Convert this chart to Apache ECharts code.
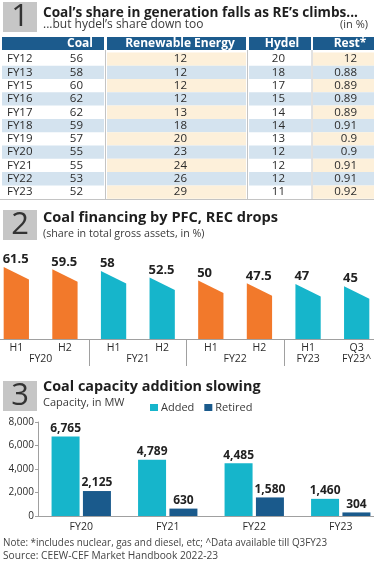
<!DOCTYPE html>
<html><head><meta charset="utf-8">
<script src="https://cdn.jsdelivr.net/npm/echarts@6/dist/echarts.min.js"></script>
<style>html,body{margin:0;padding:0;background:#fff}#c{width:374px;height:561px}</style>
</head><body><div id="c"></div>
<script>
// ---------- Panel 1: generation share table ----------
const genYears = ['FY12','FY13','FY15','FY16','FY17','FY18','FY19','FY20','FY21','FY22','FY23'];
const genCoal = [56,58,60,62,62,59,57,55,55,53,52];
const genRE = [12,12,12,12,13,18,20,23,24,26,29];
const genHydel = [20,18,17,15,14,14,13,12,12,12,11];
const genRest = [12,0.88,0.89,0.89,0.89,0.91,0.9,0.9,0.91,0.91,0.92];
const genHeaders = ['Coal','Renewable Energy','Hydel','Rest*'];

// ---------- Panel 2: coal financing share ----------
const finPeriods = ['H1','H2','H1','H2','H1','H2','H1','Q3'];
const finYears = ['FY20','FY20','FY21','FY21','FY22','FY22','FY23','FY23^'];
const finShare = [61.5,59.5,58,52.5,50,47.5,47,45];

// ---------- Panel 3: capacity ----------
const capYears = ['FY20','FY21','FY22','FY23'];
const capAdded = [6765,4789,4485,1460];
const capRetired = [2125,630,1580,304];
const capTicks = [0,2000,4000,6000,8000];

const FONT = '"Open Sans", sans-serif';
const C = {
  hdr:'#1c5b8d', blue:'#d4e3ef', cream:'#fdf0da', text:'#2b2b2b', box:'#c6c6c6',
  orange:'#f2792b', cyan:'#16b5cb', navy:'#1a5a8c', axis:'#a0a0a0', sep:'#c4c4c4'
};

const chart = echarts.init(document.getElementById('c'), null, {renderer:'canvas'});

// ----- table columns (layout/styles) -----
const tableRows = ['hdr'].concat(genYears);
const colCfg = [
  {left:2, width:102, cream:false, hdrAlign:'right', hdrX:91, valX:81, values:genCoal, showYear:true},
  {left:107, width:139, cream:true, hdrAlign:'center', hdrX:73, valX:80, values:genRE},
  {left:249, width:62, cream:false, hdrAlign:'center', hdrX:33, valX:36, values:genHydel},
  {left:313, width:61, cream:true, hdrAlign:'center', hdrX:37, valX:44, values:genRest}
];
const rowBand = 13.3;
const tableTop = 52.4 - rowBand;

const grids = [], xAxes = [], yAxes = [], series = [];

colCfg.forEach((cfg, ci) => {
  grids.push({left:cfg.left, width:cfg.width, top:tableTop, height:rowBand*tableRows.length, outerBoundsMode:'none'});
  xAxes.push({gridIndex:ci, type:'value', min:0, max:1, show:false});
  yAxes.push({gridIndex:ci, type:'category', data:tableRows, inverse:true, show:false});
  series.push({
    type:'custom', xAxisIndex:ci, yAxisIndex:ci, clip:false, silent:true,
    data: tableRows.map((r, i) => [0, i]),
    renderItem: (params, api) => {
      const i = params.dataIndex;
      const cs = params.coordSys;
      const ctr = api.coord([0, i]);
      const band = api.size([0, 1])[1];
      const children = [];
      if (i === 0) {
        children.push({type:'rect', shape:{x:cs.x, y:ctr[1]-band/2-2, width:cs.width, height:band-0.4}, style:{fill:C.hdr}});
        children.push({type:'text', x:cs.x+cfg.hdrX, y:ctr[1]-2.2, style:{text:genHeaders[ci], fill:'#fff', font:'bold 12px '+FONT, align:cfg.hdrAlign, verticalAlign:'middle'}});
      } else {
        const r = i - 1;
        let fill = null;
        if (r % 2 === 1) fill = C.blue; else if (cfg.cream) fill = C.cream;
        if (fill) children.push({type:'rect', shape:{x:cs.x, y:ctr[1]-band/2, width:cs.width, height:band}, style:{fill:fill}});
        if (cfg.showYear) children.push({type:'text', x:cs.x+5, y:ctr[1], style:{text:genYears[r], fill:C.text, font:'11.5px '+FONT, align:'left', verticalAlign:'middle'}});
        children.push({type:'text', x:cs.x+cfg.valX, y:ctr[1], style:{text:String(cfg.values[r]), fill:C.text, font:'11.5px '+FONT, align:'right', verticalAlign:'middle'}});
      }
      return {type:'group', children};
    }
  });
});

// ----- Panel 2 grid -----
const g2 = grids.length;
grids.push({left:-8, right:-7, top:257, height:82, outerBoundsMode:'none'});
const baseYear = s => s.replace('^','');
const yearOrder = [];
finYears.forEach(y => { const b = baseYear(y); if (yearOrder.indexOf(b) < 0) yearOrder.push(b); });
const grpLabelPos = [], grpLabelTxt = [];
for (let i = 0; i < finYears.length;) {
  let j = i; while (j + 1 < finYears.length && finYears[j+1] === finYears[i]) j++;
  grpLabelPos.push((i + j) / 2); grpLabelTxt.push(finYears[i]); i = j + 1;
}
const grpSeps = [];
for (let i = 1; i < finYears.length; i++) if (baseYear(finYears[i]) !== baseYear(finYears[i-1])) grpSeps.push(i - 0.5);

xAxes.push({gridIndex:g2, type:'category', data:finPeriods,
  axisLine:{lineStyle:{color:C.axis, width:1}},
  axisTick:{length:3, lineStyle:{color:C.axis}},
  axisLabel:{color:C.text, fontSize:10.5, fontFamily:FONT, margin:4}});
xAxes.push({gridIndex:g2, type:'value', min:-0.5, max:finYears.length-0.5, position:'bottom',
  axisLine:{show:false}, splitLine:{show:false},
  axisTick:{show:true, customValues:grpSeps, length:27, lineStyle:{color:C.axis}},
  axisLabel:{customValues:grpLabelPos, color:C.text, fontSize:10.5, fontFamily:FONT, margin:15,
    formatter: v => { const k = grpLabelPos.findIndex(p => Math.abs(p - v) < 1e-6); return k >= 0 ? grpLabelTxt[k] : ''; }}});
yAxes.push({gridIndex:g2, type:'value', min:0, max:70, show:false});
const x2 = xAxes.length - 2;
series.push({
  type:'custom', xAxisIndex:x2, yAxisIndex:yAxes.length-1, clip:false,
  data: finShare.map((v, i) => [i, v]),
  renderItem: (params, api) => {
    const idx = api.value(0), val = api.value(1);
    const top = api.coord([idx, val]);
    const base = api.coord([idx, 0]);
    const bw = api.size([1, 0])[0] * 0.52;
    const drop = 12.5;
    const gi = yearOrder.indexOf(baseYear(finYears[idx]));
    const col = gi % 2 === 0 ? C.orange : C.cyan;
    const l = top[0] - bw/2, r = top[0] + bw/2;
    return {type:'group', children:[
      {type:'polygon', shape:{points:[[l, top[1]], [r, top[1]+drop], [r, base[1]], [l, base[1]]]}, style:{fill:col}},
      {type:'text', x:l-1, y:top[1]-1, style:{text:String(finShare[idx]), fill:'#222', font:'bold 13px '+FONT, align:'left', verticalAlign:'bottom'}}
    ]};
  }
});

// ----- Panel 3 grid -----
const g3 = grids.length;
grids.push({left:38, right:-10, top:422, height:94, outerBoundsMode:'none'});
xAxes.push({gridIndex:g3, type:'category', data:capYears,
  axisLine:{lineStyle:{color:C.axis}}, axisTick:{length:3, lineStyle:{color:C.axis}},
  axisLabel:{color:C.text, fontSize:10.5, fontFamily:FONT, margin:6}});
yAxes.push({gridIndex:g3, type:'value', min:capTicks[0], max:capTicks[capTicks.length-1], interval:capTicks[1]-capTicks[0],
  axisLine:{show:true, lineStyle:{color:C.axis}}, axisTick:{show:true, length:3, lineStyle:{color:C.axis}},
  splitLine:{show:false},
  axisLabel:{color:C.text, fontSize:10, fontFamily:FONT, margin:4, formatter: v => v.toLocaleString('en-US')}});
const x3 = xAxes.length - 1, y3 = yAxes.length - 1;
const barLabel = {show:true, position:'top', distance:2, color:'#222', fontSize:12, fontWeight:'bold', fontFamily:FONT,
  formatter: p => p.value.toLocaleString('en-US')};
series.push({name:'Added', type:'bar', xAxisIndex:x3, yAxisIndex:y3, data:capAdded, barWidth:28, barGap:'12%',
  itemStyle:{color:C.cyan}, label:barLabel});
series.push({name:'Retired', type:'bar', xAxisIndex:x3, yAxisIndex:y3, data:capRetired, barWidth:28, barGap:'12%',
  itemStyle:{color:C.navy}, label:barLabel});

// ----- decorations / titles -----
const graphic = [];
function box(y, n) {
  graphic.push({type:'rect', left:3, top:y, shape:{width:34, height:30}, style:{fill:C.box}});
  graphic.push({type:'text', x:20, y:y+15, style:{text:n, font:'31px '+FONT, fill:'#333', align:'center', verticalAlign:'middle'}});
}
function title(y, t, fs) { graphic.push({type:'text', x:43, y:y, style:{text:t, font:'bold '+fs+'px '+FONT, fill:'#1e1e1e', verticalAlign:'middle'}}); }
function sub(y, t, fs, x, align) { graphic.push({type:'text', x:x||43, y:y, style:{text:t, font:fs+'px '+FONT, fill:'#3a3a3a', align:align||'left', verticalAlign:'middle'}}); }
box(2, '1'); title(13, 'Coal\u2019s share in generation falls as RE\u2019s climbs...', 13.6);
sub(25, '...but hydel\u2019s share down too', 12); sub(25, '(in %)', 11, 368, 'right');
box(210, '2'); title(218, 'Coal financing by PFC, REC drops', 14.6); sub(234, '(share in total gross assets, in %)', 10.7);
box(381, '3'); title(387, 'Coal capacity addition slowing', 14.4); sub(403, 'Capacity, in MW', 11);
// table separators
[105.5, 247.5, 312].forEach(x => graphic.push({type:'line', shape:{x1:x, y1:50, x2:x, y2:199}, style:{stroke:C.sep, lineWidth:1}}));
graphic.push({type:'line', shape:{x1:0, y1:199.5, x2:374, y2:199.5}, style:{stroke:C.sep, lineWidth:1}});
// notes
graphic.push({type:'text', x:3, y:543, style:{text:'Note: *includes nuclear, gas and diesel, etc; ^Data available till Q3FY23', font:'9.9px '+FONT, fill:'#444', verticalAlign:'middle'}});
graphic.push({type:'text', x:3, y:556, style:{text:'Source: CEEW-CEF Market Handbook 2022-23', font:'10.2px '+FONT, fill:'#444', verticalAlign:'middle'}});

chart.setOption({
  animation:false,
  backgroundColor:'#fff',
  textStyle:{fontFamily:FONT},
  grid:grids, xAxis:xAxes, yAxis:yAxes, series:series, graphic:graphic,
  legend:{data:['Added','Retired'], left:145, top:397, icon:'rect', itemWidth:8, itemHeight:7, itemGap:10,
    textStyle:{fontSize:11, color:'#3a3a3a', fontFamily:FONT, padding:[0,0,0,-2]}, selectedMode:false}
});
</script>
</body></html>
